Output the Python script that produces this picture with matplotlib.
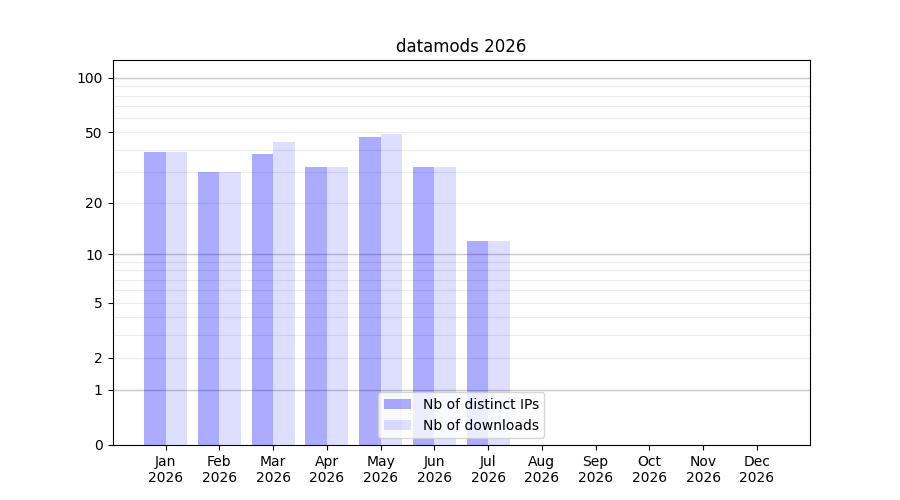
import matplotlib
matplotlib.use("Agg")
import matplotlib.pyplot as plt
import numpy as np

months = ["Jan", "Feb", "Mar", "Apr", "May", "Jun", "Jul", "Aug", "Sep", "Oct", "Nov", "Dec"]
year = 2026
distinct_ips = [39, 30, 38, 32, 47, 32, 12, 0, 0, 0, 0, 0]
downloads = [39, 30, 44, 32, 49, 32, 12, 0, 0, 0, 0, 0]
yticks = [0, 1, 2, 5, 10, 20, 50, 100]


def fwd(y):
    return np.log10(1 + np.clip(y, 0, None))


def inv(y):
    return 10 ** y - 1


fig, ax = plt.subplots(figsize=(9, 5), dpi=100)
ax.set_yscale("function", functions=(fwd, inv))

x = np.arange(len(months))
w = 0.4
ax.bar(x - w / 2, distinct_ips, w, color="blue", alpha=0.33, label="Nb of distinct IPs", zorder=2)
ax.bar(x + w / 2, downloads, w, color="blue", alpha=0.13, label="Nb of downloads", zorder=2)

# grid: strong lines on decades, light ones in between
ax.yaxis.remove_overlapping_locs = False
minor = [m * d for d in (1, 10) for m in range(2, 10)]
ax.set_yticks(minor, minor=True)
ax.tick_params(axis="y", which="minor", length=0)
ax.grid(True, axis="y", which="minor", color="#ebebeb", linewidth=0.8, zorder=0)
for d in (1, 10, 100):
    ax.axhline(d, color="#c8c8c8", linewidth=1, zorder=1)

ax.set_yticks(yticks)
ax.set_yticklabels([str(t) for t in yticks])
ax.set_ylim(0, 125.6)

ax.set_xticks(x)
ax.set_xticklabels([f"{m}\n{year}" for m in months])
ax.set_title(f"datamods {year}")
ax.legend(loc="lower center")

fig.savefig("out.png")
